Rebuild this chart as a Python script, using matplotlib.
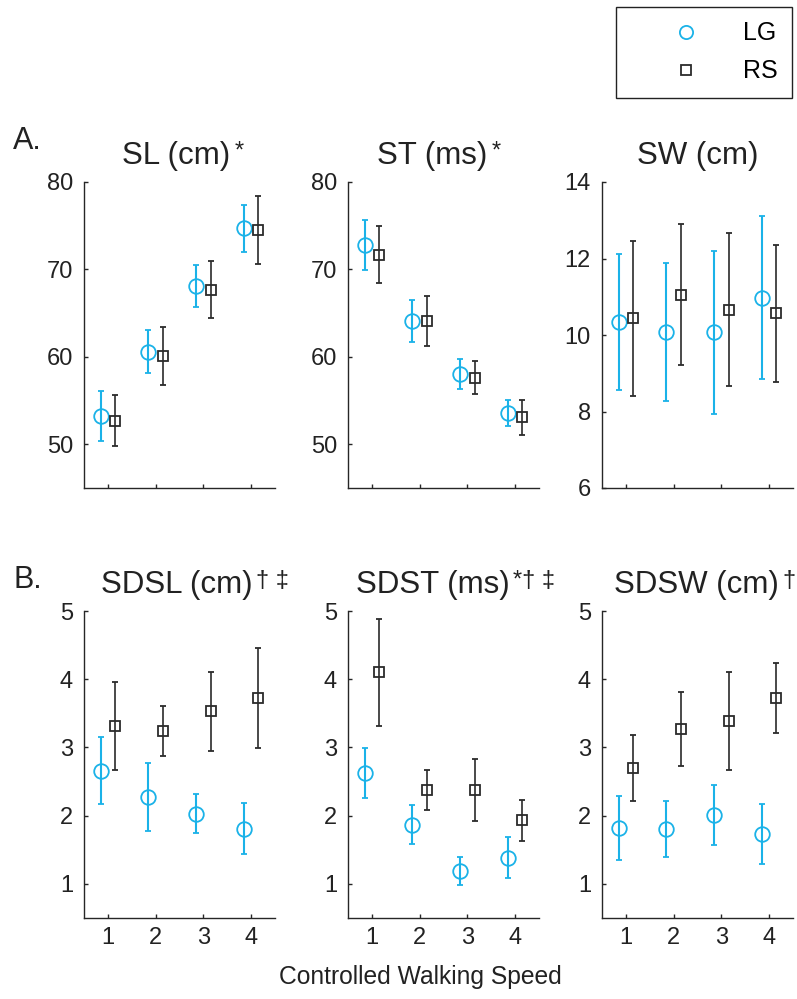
import matplotlib

matplotlib.use("Agg")
from matplotlib import pyplot as plt
from matplotlib.lines import Line2D

plt.rcParams["font.family"] = ["Liberation Sans", "DejaVu Sans"]

speeds = [1, 2, 3, 4]

sl_lg = [53.2, 60.6, 68.1, 74.7]
sl_lg_err = [2.85, 2.45, 2.35, 2.7]
sl_rs = [52.7, 60.1, 67.7, 74.5]
sl_rs_err = [2.95, 3.3, 3.25, 3.85]

st_lg = [72.8, 64.1, 58.0, 53.6]
st_lg_err = [2.85, 2.4, 1.7, 1.5]
st_rs = [71.7, 64.1, 57.6, 53.1]
st_rs_err = [3.3, 2.85, 1.9, 2.0]

sw_lg = [10.34, 10.08, 10.07, 10.98]
sw_lg_err = [1.79, 1.8, 2.13, 2.13]
sw_rs = [10.44, 11.05, 10.66, 10.57]
sw_rs_err = [2.03, 1.84, 2.0, 1.79]

sdsl_lg = [2.66, 2.27, 2.03, 1.81]
sdsl_lg_err = [0.49, 0.5, 0.29, 0.375]
sdsl_rs = [3.32, 3.24, 3.53, 3.72]
sdsl_rs_err = [0.645, 0.37, 0.58, 0.735]

sdst_lg = [2.62, 1.87, 1.19, 1.38]
sdst_lg_err = [0.365, 0.28, 0.21, 0.3]
sdst_rs = [4.10, 2.38, 2.38, 1.93]
sdst_rs_err = [0.79, 0.295, 0.455, 0.3]

sdsw_lg = [1.82, 1.81, 2.01, 1.73]
sdsw_lg_err = [0.465, 0.41, 0.435, 0.445]
sdsw_rs = [2.70, 3.27, 3.39, 3.73]
sdsw_rs_err = [0.48, 0.545, 0.72, 0.515]

palette = {"lg": "#1ab2e8", "rs": "#2b2b2b", "axis": "#262626", "text": "#222222"}

# title, superscript, title x (axes frac), ylim, yticks, data
panels = [
    ("SL (cm)", "*", 0.484, (45, 80), [50, 60, 70, 80], sl_lg, sl_lg_err, sl_rs, sl_rs_err),
    ("ST (ms)", "*", 0.44, (45, 80), [50, 60, 70, 80], st_lg, st_lg_err, st_rs, st_rs_err),
    ("SW (cm)", "", 0.50, (6, 14), [6, 8, 10, 12, 14], sw_lg, sw_lg_err, sw_rs, sw_rs_err),
    ("SDSL (cm)", "\u2020 \u2021", 0.484, (0.5, 5), [1, 2, 3, 4, 5], sdsl_lg, sdsl_lg_err, sdsl_rs, sdsl_rs_err),
    ("SDST (ms)", "*\u2020 \u2021", 0.442, (0.5, 5), [1, 2, 3, 4, 5], sdst_lg, sdst_lg_err, sdst_rs, sdst_rs_err),
    ("SDSW (cm)", "\u2020", 0.492, (0.5, 5), [1, 2, 3, 4, 5], sdsw_lg, sdsw_lg_err, sdsw_rs, sdsw_rs_err),
]

W, H = 797, 999
fig = plt.figure(figsize=(W / 100, H / 100), dpi=100, facecolor="white")

lefts = [84, 348, 602]
rows = [(182, 488), (611, 918)]
shift = 0.15

for idx, (title, sup, tx, ylim, yticks, lg, lg_err, rs, rs_err) in enumerate(panels):
    r, c = divmod(idx, 3)
    top, bottom = rows[r]
    ax = fig.add_axes([lefts[c] / W, 1 - bottom / H, 191 / W, (bottom - top) / H])

    ax.errorbar([s - shift for s in speeds], lg, yerr=lg_err, fmt="o", color=palette["lg"],
                mfc="none", mec=palette["lg"], ms=10.5, mew=1.3, elinewidth=1.5,
                capsize=2.2, capthick=1.5)
    ax.errorbar([s + shift for s in speeds], rs, yerr=rs_err, fmt="s", color=palette["rs"],
                mfc="none", mec=palette["rs"], ms=7.5, mew=1.3, elinewidth=1.2,
                capsize=2.2, capthick=1.2)

    ax.set_xlim(0.5, 4.5)
    ax.set_ylim(*ylim)
    ax.set_yticks(yticks)
    ax.set_xticks(speeds)
    if r == 0:
        ax.set_xticklabels([])
    for side in ("top", "right"):
        ax.spines[side].set_visible(False)
    for side in ("left", "bottom"):
        ax.spines[side].set_color(palette["axis"])
        ax.spines[side].set_linewidth(1.0)
    ax.tick_params(axis="both", direction="in", length=3, width=1.0, color=palette["axis"],
                   labelsize=17, labelcolor=palette["text"])
    ax.tick_params(axis="y", pad=8)
    ax.tick_params(axis="x", pad=6.5)

    t = ax.text(tx, 1.085, title, transform=ax.transAxes, ha="center", va="center",
                fontsize=22.5, color=palette["text"])
    if sup:
        ax.annotate(sup, xy=(1, 1), xycoords=t, xytext=(3, 0), textcoords="offset points",
                    ha="left", va="top", fontsize=17, color=palette["text"])

fig.text(13 / W, 1 - 141 / H, "A.", fontsize=22, ha="left", va="center", color=palette["text"])
fig.text(13 / W, 1 - 580 / H, "B.", fontsize=22, ha="left", va="center", color=palette["text"])
fig.text(420 / W, 1 - 977 / H, "Controlled Walking Speed", fontsize=17.75, ha="center",
         va="center", color=palette["text"])

handles = [
    Line2D([], [], linestyle="none", marker="o", mfc="none", mec=palette["lg"], ms=9.5, mew=1.3),
    Line2D([], [], linestyle="none", marker="s", mfc="none", mec=palette["rs"], ms=7, mew=1.3),
]
leg = fig.legend(handles, ["LG", "RS"], loc="upper right", bbox_to_anchor=(792 / W, 1 - 7 / H),
                 fontsize=18, frameon=True, fancybox=False, framealpha=1, edgecolor=palette["text"],
                 handlelength=4.44, handletextpad=0.06, borderpad=0.58, labelspacing=0.56,
                 borderaxespad=0)
leg.get_frame().set_linewidth(1.0)

fig.savefig("out.png", dpi=100, facecolor="white")
